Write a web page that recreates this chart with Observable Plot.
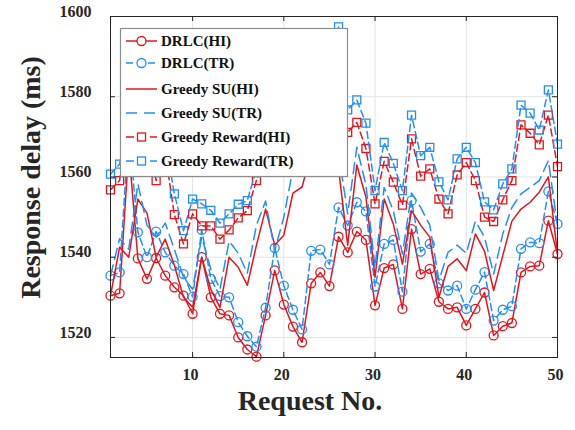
<!DOCTYPE html>
<html><head><meta charset="utf-8">
<script src="https://cdn.jsdelivr.net/npm/d3@7"></script>
<script src="https://cdn.jsdelivr.net/npm/@observablehq/plot@0.6"></script>
<style>body{margin:0;background:#fff}#chart{width:575px;height:430px}</style>
</head><body><div id="chart"></div>
<script>
const requests = d3.range(1, 51);
const seriesNames = ["DRLC(HI)", "DRLC(TR)", "Greedy SU(HI)", "Greedy SU(TR)", "Greedy Reward(HI)", "Greedy Reward(TR)"];
const drlcHI = [1530.4,1531,1567,1539.7,1534.6,1539.8,1535.4,1532.5,1530.4,1525.9,1540,1530,1525.9,1525.5,1520,1517,1515.2,1525.5,1536.7,1528.2,1522.7,1518.8,1533.5,1536.2,1532.8,1545.1,1541.2,1546.4,1544.3,1528,1537.3,1538.2,1527.1,1547,1535.8,1537.1,1528.9,1527.1,1527.5,1523,1527.1,1531.2,1520.5,1522.8,1523.6,1536.2,1537.7,1537.9,1549.1,1540.8];
const drlcTR = [1535.4,1536.2,1572,1546.2,1540,1546.4,1541.2,1537.9,1535.8,1530.1,1546.8,1534.6,1530.3,1530,1523.8,1520.3,1517.7,1527.4,1542.3,1532.9,1526.9,1522,1541.6,1541.9,1538.2,1552.4,1547.9,1553.7,1551.4,1532.7,1543.3,1544.3,1531.4,1554.1,1541.4,1543.3,1533.5,1531.7,1532.9,1527.1,1531.9,1536.3,1524.2,1526.9,1527.8,1542.1,1543.7,1543.5,1556.4,1548.3];
const greedySuHI = [1530.4,1542.5,1540,1554.5,1551,1540,1544.5,1538,1530,1527.5,1540,1532,1527.5,1540,1537.5,1533,1543,1552,1543,1545.5,1556,1557.5,1566,1568,1566,1562,1543,1563,1555,1535,1554.5,1548.3,1538.3,1551.6,1548,1545,1530,1537.7,1539.6,1536.7,1545.8,1541.5,1531.7,1540.4,1549,1552,1553.7,1556.2,1560,1540.9];
const greedySuTR = [1535.4,1544.6,1542,1558.3,1548,1545,1548.5,1542,1535,1532,1545,1537,1532,1544,1541,1536,1548,1554,1541.6,1550,1562,1566,1570,1572,1570,1566,1550.8,1567.4,1558,1537.5,1557.4,1551.6,1540.8,1556,1552.4,1548,1534.2,1541.2,1543,1541,1549,1545,1535.8,1545.8,1552.4,1555.8,1557.4,1559.1,1564.1,1547.8];
const greedyRewardHI = [1556.8,1559.1,1575,1578,1572,1559.1,1566,1550.6,1543.3,1550.8,1547.8,1547.8,1544.5,1546.8,1549.8,1551.6,1559.1,1568,1572,1570,1575,1578,1574,1580,1582,1588,1571.1,1573.6,1567.1,1553.3,1563.9,1558.7,1553,1569.5,1560.2,1562,1554.5,1550.8,1560.5,1563.6,1559.1,1550,1548.9,1554.3,1559.1,1573,1570.9,1568,1575.4,1562.6];
const greedyRewardTR = [1560.7,1563.2,1578,1582,1575,1563,1569,1555.8,1546.6,1554.5,1553.3,1551.7,1548.5,1550.8,1553.2,1554.1,1562,1572,1575,1573,1578,1581,1577,1584,1586,1597.4,1576.7,1579.2,1573.4,1556.6,1568.6,1563.4,1556.6,1575.4,1565.3,1567.4,1558.8,1554.3,1564.5,1567.4,1563.6,1553.8,1551.8,1558.3,1562,1577.9,1575.9,1571.7,1581.7,1568.2];
const xTicks = [10, 20, 30, 40, 50];
const yTicks = [1520, 1540, 1560, 1580, 1600];
const xLabel = "Request No.";
const yLabel = "Response delay (ms)";

const RED = "#e8141c", BLUE = "#1f8fff", INK = "#262626";
const seriesValues = [drlcHI, drlcTR, greedySuHI, greedySuTR, greedyRewardHI, greedyRewardTR];
const seriesStyle = [
  {stroke: RED, dash: null, symbol: "circle", legendDash: null},
  {stroke: BLUE, dash: "7,4", symbol: "circle", legendDash: "7,4"},
  {stroke: RED, dash: null, symbol: null, legendDash: null},
  {stroke: BLUE, dash: "11,6", symbol: null, legendDash: "11,7"},
  {stroke: RED, dash: "7,4", symbol: "square", legendDash: "8,4"},
  {stroke: BLUE, dash: "7,4", symbol: "square", legendDash: "8,4"}
];

const W = 575, H = 430, mL = 110, mR = 18, mT = 16, mB = 73;
const plotW = W - mL - mR, plotH = H - mT - mB;
const FONT = "'Liberation Serif', 'Times New Roman', serif";

const marks = [
  Plot.gridX(xTicks, {stroke: "#e3e3e3", strokeOpacity: 1}),
  Plot.gridY(yTicks, {stroke: "#e3e3e3", strokeOpacity: 1})
];
seriesNames.forEach((name, k) => {
  const data = seriesValues[k].map((v, i) => ({x: requests[i], y: v}));
  const st = seriesStyle[k];
  marks.push(Plot.line(data, {x: "x", y: "y", stroke: st.stroke, strokeWidth: 1.5, strokeDasharray: st.dash}));
  if (st.symbol) marks.push(Plot.dot(data, {x: "x", y: "y", symbol: st.symbol, r: 4.5, stroke: st.stroke, fill: "none", strokeWidth: 1.3}));
});
marks.push(
  Plot.frame({stroke: INK}),
  Plot.ruleY(yTicks, {stroke: INK, insetRight: plotW - 5}),
  Plot.ruleY(yTicks, {stroke: INK, insetLeft: plotW - 5}),
  Plot.ruleX(xTicks, {stroke: INK, insetTop: plotH - 5}),
  Plot.ruleX(xTicks, {stroke: INK, insetBottom: plotH - 5}),
  Plot.axisY(yTicks, {tickSize: 0, tickPadding: 19, dy: -5, tickFormat: d => String(d), fontSize: 16, fontWeight: "bold", fill: INK, label: null}),
  Plot.axisX(xTicks, {tickSize: 0, tickPadding: 11, dx: -2, tickFormat: d => String(d), fontSize: 16, fontWeight: "bold", fill: INK, label: null}),
  Plot.text([xLabel], {frameAnchor: "bottom", dx: -24, dy: 52, fontSize: 28, fontWeight: "bold", fill: INK})
);

const chart = Plot.plot({
  width: W, height: H,
  marginLeft: mL, marginRight: mR, marginTop: mT, marginBottom: mB,
  style: {fontFamily: FONT, background: "white", color: INK},
  x: {domain: [1, 50]},
  y: {domain: [1515, 1600]},
  marks
});

const svg = d3.select(chart);
// y axis title
svg.append("text").attr("transform", "translate(31,177.5) rotate(-90)")
  .attr("text-anchor", "middle").attr("dy", "0.33em").attr("font-size", 28).attr("font-weight", "bold")
  .attr("font-family", FONT).attr("fill", INK).text(yLabel);

// legend box (opaque, drawn over the lines as in the original)
const lg = svg.append("g").attr("font-family", FONT);
lg.append("rect").attr("x", 120.5).attr("y", 28.5).attr("width", 227).attr("height", 148)
  .attr("fill", "white").attr("stroke", "#8c8c8c").attr("stroke-width", 1.2);
const rowY = [41, 63, 89, 113, 137, 161];
seriesNames.forEach((name, k) => {
  const st = seriesStyle[k], y = rowY[k];
  lg.append("line").attr("x1", 126).attr("x2", 157).attr("y1", y).attr("y2", y)
    .attr("stroke", st.stroke).attr("stroke-width", 1.5).attr("stroke-dasharray", st.legendDash);
  if (st.symbol === "circle") lg.append("circle").attr("cx", 141.5).attr("cy", y).attr("r", 4.5)
    .attr("fill", "white").attr("stroke", st.stroke).attr("stroke-width", 1.3);
  if (st.symbol === "square") lg.append("rect").attr("x", 137.5).attr("y", y - 4).attr("width", 8).attr("height", 8)
    .attr("fill", "white").attr("stroke", st.stroke).attr("stroke-width", 1.3);
  lg.append("text").attr("x", 161).attr("y", y).attr("dy", "0.33em").attr("font-size", 15)
    .attr("text-anchor", "start").attr("font-weight", "bold").attr("fill", "#111").text(name);
});
document.getElementById("chart").append(chart);
</script>
</body></html>
